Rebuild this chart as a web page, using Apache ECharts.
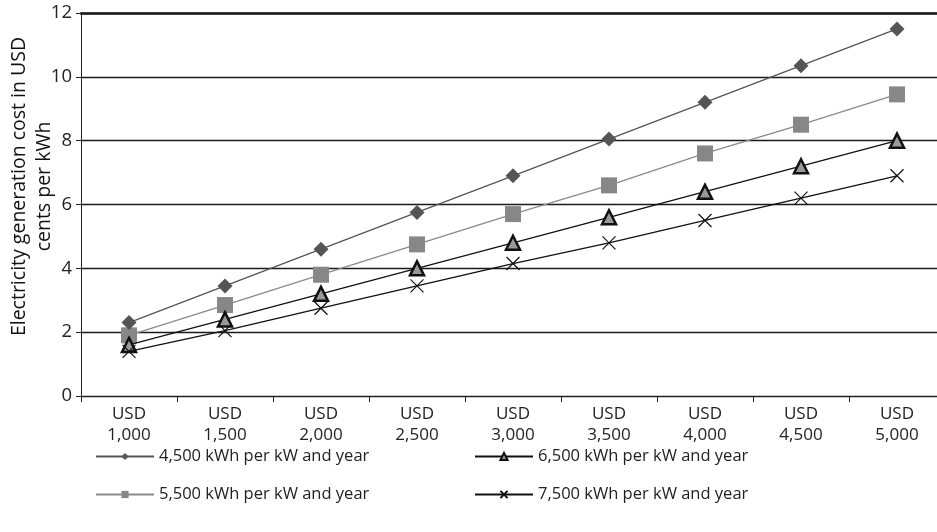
<!DOCTYPE html>
<html><head><meta charset="utf-8">
<script src="https://cdn.jsdelivr.net/npm/echarts@6/dist/echarts.min.js"></script>
<style>html,body{margin:0;padding:0;background:#fff}#c{width:937px;height:532px}</style>
</head><body><div id="c"></div>
<script>
const categories = ['USD\n1,000','USD\n1,500','USD\n2,000','USD\n2,500','USD\n3,000','USD\n3,500','USD\n4,000','USD\n4,500','USD\n5,000'];
const s4500 = [2.3, 3.45, 4.6, 5.75, 6.9, 8.05, 9.2, 10.35, 11.5];
const s5500 = [1.9, 2.85, 3.8, 4.75, 5.7, 6.6, 7.6, 8.5, 9.45];
const s6500 = [1.6, 2.4, 3.2, 4.0, 4.8, 5.6, 6.4, 7.2, 8.0];
const s7500 = [1.4, 2.05, 2.75, 3.45, 4.15, 4.8, 5.5, 6.2, 6.9];
const names = ['4,500 kWh per kW and year','5,500 kWh per kW and year','6,500 kWh per kW and year','7,500 kWh per kW and year'];
const yTicks = [0,2,4,6,8,10,12];

const font = '"Open Sans", "DejaVu Sans", sans-serif';
const chart = echarts.init(document.getElementById('c'));
const legendBase = {
  orient:'vertical', itemWidth:58, itemHeight:9, itemGap:21,
  textStyle:{fontFamily:font, fontSize:16.5, color:'#222'}, top:443
};
chart.setOption({
  animation:false,
  textStyle:{fontFamily:font},
  grid:{left:81, right:-8, top:13, bottom:136, containLabel:false, outerBoundsMode:'none'},
  legend:[
    Object.assign({}, legendBase, {left:90, data:[names[0], names[1]]}),
    Object.assign({}, legendBase, {left:469, data:[names[2], names[3]]})
  ],
  xAxis:[{
    type:'category', data:categories, boundaryGap:true,
    axisLine:{lineStyle:{color:'#222', width:1}},
    axisTick:{show:true, length:6, lineStyle:{color:'#222'}},
    axisLabel:{fontSize:17, color:'#222', lineHeight:21, margin:8, fontFamily:font}
  },{
    type:'category', data:categories, position:'top', boundaryGap:true,
    axisLine:{show:true, lineStyle:{color:'#1a1a1a', width:2.5}},
    axisTick:{show:false}, axisLabel:{show:false}, splitLine:{show:false}
  }],
  yAxis:{
    type:'value', min:yTicks[0], max:yTicks[yTicks.length-1], interval:2,
    name:'Electricity generation cost in USD\ncents per kWh',
    nameLocation:'middle', nameGap:24, nameRotate:90, nameMoveOverlap:false,
    nameTextStyle:{fontSize:19.5, color:'#111', lineHeight:25, fontFamily:font, padding:[0,0,0,36]},
    axisLine:{show:true, lineStyle:{color:'#222'}},
    axisTick:{show:true, length:5, lineStyle:{color:'#222'}},
    axisLabel:{fontSize:18.5, color:'#222', margin:9, fontFamily:font},
    splitLine:{lineStyle:{color:'#1a1a1a', width:1.3}}
  },
  series:[
    {name:names[0], type:'line', data:s4500, symbol:'diamond', symbolSize:15,
     lineStyle:{color:'#555', width:1.3}, itemStyle:{color:'#555'}, z:4},
    {name:names[1], type:'line', data:s5500, symbol:'rect', symbolSize:16,
     lineStyle:{color:'#8a8a8a', width:1.3}, itemStyle:{color:'#878787'}, z:3},
    {name:names[2], type:'line', data:s6500, symbol:'triangle', symbolSize:14,
     lineStyle:{color:'#111', width:1.3}, itemStyle:{color:'#999', borderColor:'#111', borderWidth:2.5}, z:5},
    {name:names[3], type:'line', data:s7500, symbol:'path://M0,0L10,10M10,0L0,10', symbolSize:13,
     lineStyle:{color:'#111', width:1.3}, itemStyle:{color:'rgba(0,0,0,0)', borderColor:'#111', borderWidth:1.2}, z:6}
  ]
});
</script></body></html>
